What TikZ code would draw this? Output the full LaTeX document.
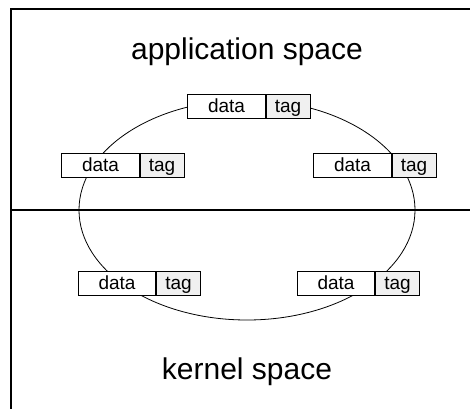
\documentclass[tikz,border=0pt]{standalone}
\usepackage{fontspec}
\setmainfont{Liberation Sans}
\definecolor{tagfill}{HTML}{F0F0F0}
\tikzset{
  cell/.style={draw=black, line width=0.8pt, fill=white, minimum height=24pt, inner sep=0pt,
    font=\fontsize{19}{19}\selectfont, text height=13.6pt, text depth=0pt},
  datacell/.style={cell, minimum width=77.5pt},
  tagcell/.style={cell, minimum width=44pt, fill=tagfill, anchor=west},
  frameline/.style={line width=1.3pt},
  big/.style={font=\fontsize{30}{30}\selectfont, anchor=base}
}
\begin{document}
\begin{tikzpicture}[x=1pt,y=-1pt]
\useasboundingbox (0,0) rectangle (470,409);
\coordinate (tl) at (11,9);
\coordinate (tr) at (470,9);
\coordinate (bl) at (11,409);
\coordinate (ml) at (11,210);
\coordinate (mr) at (470,210);
\draw[frameline] (tr) -- (tl) -- (bl);
\draw[frameline] (ml) -- (mr);
\node[big] (app) at (247,60) {application space};
\node[big] (ker) at (247,379) {kernel space};
\coordinate (c) at (247,210);
\draw[line width=0.8pt] (c) ellipse [x radius=168, y radius=110];
\node[datacell] (d1) at (226.5,106) {data};
\node[tagcell] (t1) at (d1.east) {tag};
\node[datacell] (d2) at (100.5,165) {data};
\node[tagcell] (t2) at (d2.east) {tag};
\node[datacell] (d3) at (352.5,165) {data};
\node[tagcell] (t3) at (d3.east) {tag};
\node[datacell] (d4) at (117,283) {data};
\node[tagcell] (t4) at (d4.east) {tag};
\node[datacell] (d5) at (336,283) {data};
\node[tagcell] (t5) at (d5.east) {tag};
\end{tikzpicture}
\end{document}
